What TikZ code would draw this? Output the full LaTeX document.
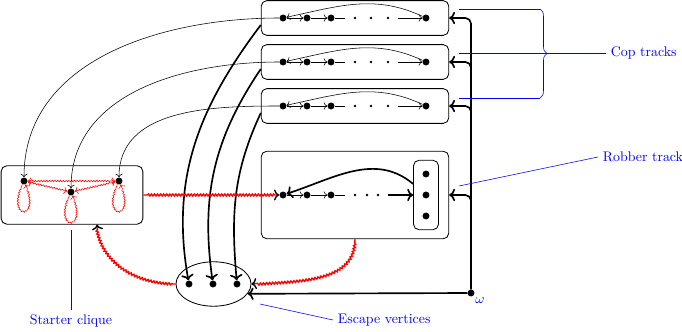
\documentclass[tikz,border=0pt]{standalone}
\usepackage{amsmath,amssymb}
\usepackage{xcolor}
\usepackage{tikz}
\usetikzlibrary{arrows.meta,decorations.pathmorphing,decorations.pathreplacing,shapes.geometric}

\begin{document}
\begin{tikzpicture}[>=To,x=2.53mm,y=2.53mm,
  vtx/.style={circle,fill,inner sep=0pt,minimum size=5pt},
  trackbox/.style={draw,semithick,rounded corners=4pt,minimum width=135pt,minimum height=25pt},
  wavy/.style={red,decorate,decoration={snake,amplitude=.5pt,segment length=2pt,pre length=3pt,post length=3pt}},
  tag/.style={blue}]
  \useasboundingbox (0,0) rectangle (68.2,33.2);
  % cop tracks
  \foreach \i/\y in {1/31.4,2/27.0,3/22.6}{
    \node[trackbox] (cop\i) at (35.5,\y) {};
    \node[vtx] (ca\i) at (28.3,\y) {};
    \node[vtx] (cb\i) at (30.7,\y) {};
    \node[vtx] (cc\i) at (33.1,\y) {};
    \node[vtx] (cz\i) at (42.6,\y) {};
    \coordinate (cg\i) at (34.5,\y);
    \coordinate (ch\i) at (39.8,\y);
    \foreach \x in {35.5,37.1,38.8}{ \fill (\x,\y) circle (1pt); }
    \draw[->] (ca\i) -- (cb\i);
    \draw[->] (cb\i) -- (cc\i);
    \draw (cc\i) -- (cg\i);
    \draw[->] (ch\i) -- (cz\i);
    \draw[->] (cz\i) to[out=155,in=12] (ca\i);
  }
  % robber track
  \node[trackbox,minimum height=63pt] (rob) at (35.5,13.7) {};
  \node[draw,semithick,rounded corners=4pt,minimum width=18pt,minimum height=50pt] (pool) at (42.6,13.7) {};
  \node[vtx] (ra) at (28.3,13.7) {};
  \node[vtx] (rb) at (30.7,13.7) {};
  \node[vtx] (rc) at (33.1,13.7) {};
  \node[vtx] (p1) at (42.6,15.8) {};
  \node[vtx] (p2) at (42.6,13.7) {};
  \node[vtx] (p3) at (42.6,11.6) {};
  \coordinate (rg) at (34.5,13.7);
  \coordinate (rh) at (38.8,13.7);
  \foreach \x in {35.5,36.7,37.8}{ \fill (\x,13.7) circle (1pt); }
  \draw[->] (ra) -- (rb);
  \draw[->] (rb) -- (rc);
  \draw (rc) -- (rg);
  \draw[very thick,->] (rh) -- (pool);
  \draw[very thick,->] ([yshift=8pt]pool.west) to[out=140,in=18] (ra);
  % starter clique
  \node[trackbox,minimum width=102pt,minimum height=42pt] (start) at (7.2,13.7) {};
  \node[vtx] (s1) at (2.4,15.1) {};
  \node[vtx] (s2) at (7.1,14.0) {};
  \node[vtx] (s3) at (11.9,15.1) {};
  \draw[wavy,<->] (s1) -- (s3);
  \draw[wavy,<->] (s1) -- (s2);
  \draw[wavy,<->] (s2) -- (s3);
  \foreach \s in {s1,s2,s3}{
    \draw[wavy,->] (\s) .. controls +(-1.8,-3.9) and +(1.8,-3.9) .. (\s);
  }
  % escape vertices
  \node[draw,semithick,ellipse,minimum width=54pt,minimum height=32pt] (esc) at (21.35,4.8) {};
  \node[vtx] (e1) at (18.9,4.8) {};
  \node[vtx] (e2) at (21.3,4.8) {};
  \node[vtx] (e3) at (23.7,4.8) {};
  % omega
  \node[vtx] (w) at (47.1,3.9) {};
  \node[blue,anchor=north west,inner sep=1pt] (wlab) at (w.south east) {$\omega$};
  \foreach \n in {cop1,cop2,cop3,rob}{
    \draw[very thick,->,rounded corners=4pt] (w) |- (\n.east);
  }
  \draw[very thick,->] (w) -- (esc.-16);
  % cop tracks to starter and escape
  \draw[->] (ca1) to[out=180,in=90] (s1);
  \draw[->] (ca2) to[out=180,in=90] (s2);
  \draw[->] (ca3) to[out=180,in=90] (s3);
  \draw[very thick,->] ([yshift=-5pt]cop1.west) to[out=233,in=100] (e1);
  \draw[very thick,->] ([yshift=-5pt]cop2.west) to[out=236,in=98] (e2);
  \draw[very thick,->] ([yshift=-5pt]cop3.west) to[out=245,in=95] (e3);
  % robber moves
  \draw[wavy,line width=1pt,decoration={amplitude=.7pt,segment length=2.2pt},-{To[color=black]}] (start.east) -- (ra);
  \draw[wavy,line width=1pt,decoration={amplitude=.7pt,segment length=2.2pt},-{To[color=black]}] (rob.south) to[out=-90,in=5] (esc.east);
  \draw[wavy,line width=1pt,decoration={amplitude=.7pt,segment length=2.2pt},-{To[color=black]}] (esc.west) to[out=180,in=-85] ([xshift=18pt]start.south);
  % labels
  \node[tag,anchor=west] (coptag) at (60.6,27.9) {Cop tracks};
  \node[tag,anchor=west] (robtag) at (59.8,17.5) {Robber track};
  \node[tag] (starttag) at (7.1,1.1) {Starter clique};
  \node[tag,anchor=west] (esctag) at (33.3,1.2) {Escape vertices};
  \coordinate (b1) at (45.9,32.3);
  \coordinate (b2) at (45.9,27.9);
  \coordinate (b3) at (45.9,23.4);
  \draw[blue] (b1) -- (54.0,32.3);
  \draw[blue] (b3) -- (54.0,23.4);
  \draw[blue,decorate,decoration={brace,amplitude=5pt}] (54.0,32.3) -- (54.0,23.4);
  \draw[blue] (b2) -- (coptag.west);
  \coordinate (rpt) at (45.9,14.6);
  \draw[blue] (rpt) -- (robtag.west);
  \draw[blue] (starttag.north) -- ++(0,8.0);
  \coordinate (ept) at (26.0,2.8);
  \draw[blue] (ept) -- (esctag.west);
\end{tikzpicture}
\end{document}
